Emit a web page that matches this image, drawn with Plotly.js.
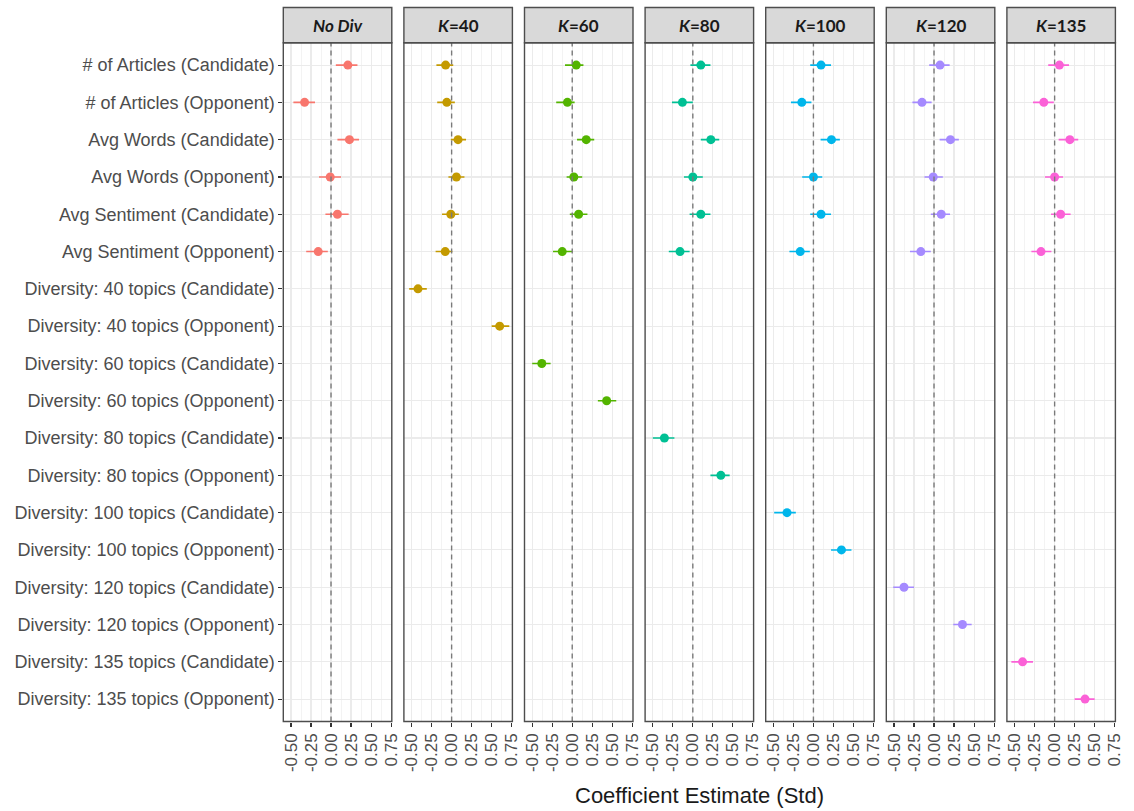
<!DOCTYPE html>
<html>
<head>
<meta charset="utf-8">
<script src="https://cdn.plot.ly/plotly-3.0.1.min.js"></script>
<style>html,body{margin:0;padding:0;background:#fff;}#chart{width:1134px;height:811px;}</style>
</head>
<body>
<div id="chart"></div>
<script>
const rowLabels = [
  "# of Articles (Candidate)", "# of Articles (Opponent)",
  "Avg Words (Candidate)", "Avg Words (Opponent)",
  "Avg Sentiment (Candidate)", "Avg Sentiment (Opponent)",
  "Diversity: 40 topics (Candidate)", "Diversity: 40 topics (Opponent)",
  "Diversity: 60 topics (Candidate)", "Diversity: 60 topics (Opponent)",
  "Diversity: 80 topics (Candidate)", "Diversity: 80 topics (Opponent)",
  "Diversity: 100 topics (Candidate)", "Diversity: 100 topics (Opponent)",
  "Diversity: 120 topics (Candidate)", "Diversity: 120 topics (Opponent)",
  "Diversity: 135 topics (Candidate)", "Diversity: 135 topics (Opponent)"
];
const panelNames = ["No Div", "K=40", "K=60", "K=80", "K=100", "K=120", "K=135"];
const panelStrip = ["<b><i>No Div</i></b>", "<b><i>K</i>=40</b>", "<b><i>K</i>=60</b>", "<b><i>K</i>=80</b>", "<b><i>K</i>=100</b>", "<b><i>K</i>=120</b>", "<b><i>K</i>=135</b>"];
const panelColors = ["#F8766D", "#C49A00", "#53B400", "#00C094", "#00B6EB", "#A58AFF", "#FB61D7"];
const xTickVals = [-0.5, -0.25, 0, 0.25, 0.5, 0.75];
const xTickText = ["-0.50", "-0.25", "0.00", "0.25", "0.50", "0.75"];

// estimates and 95% CI bounds; first six rows are shared covariates, last two are the panel's diversity rows
const estNoDiv = [0.21, -0.33, 0.23, -0.01, 0.08, -0.16];
const loNoDiv  = [0.06, -0.47, 0.08, -0.15, -0.07, -0.31];
const hiNoDiv  = [0.33, -0.20, 0.35, 0.125, 0.22, -0.04];

const estK40 = [-0.075, -0.06, 0.08, 0.06, -0.01, -0.08, -0.42, 0.60];
const loK40  = [-0.19, -0.18, -0.01, -0.04, -0.12, -0.20, -0.53, 0.50];
const hiK40  = [0.02, 0.04, 0.18, 0.16, 0.09, 0.01, -0.31, 0.72];

const estK60 = [0.05, -0.06, 0.175, 0.02, 0.08, -0.125, -0.38, 0.43];
const loK60  = [-0.09, -0.20, 0.06, -0.07, -0.03, -0.24, -0.50, 0.32];
const hiK60  = [0.14, 0.03, 0.275, 0.125, 0.19, 0.0, -0.27, 0.55];

const estK80 = [0.10, -0.13, 0.225, 0.0, 0.10, -0.16, -0.355, 0.35];
const loK80  = [-0.03, -0.26, 0.10, -0.11, -0.04, -0.30, -0.50, 0.22];
const hiK80  = [0.22, 0.0, 0.33, 0.125, 0.22, -0.04, -0.23, 0.46];

const estK100 = [0.095, -0.145, 0.225, 0.0, 0.095, -0.165, -0.33, 0.35];
const loK100  = [-0.04, -0.28, 0.09, -0.14, -0.04, -0.30, -0.49, 0.22];
const hiK100  = [0.22, -0.025, 0.33, 0.11, 0.22, -0.045, -0.22, 0.475];

const estK120 = [0.075, -0.15, 0.205, -0.01, 0.09, -0.165, -0.375, 0.355];
const loK120  = [-0.06, -0.27, 0.07, -0.12, -0.04, -0.30, -0.51, 0.24];
const hiK120  = [0.195, -0.03, 0.31, 0.11, 0.20, -0.04, -0.25, 0.47];

const estK135 = [0.06, -0.135, 0.19, 0.0, 0.075, -0.17, -0.40, 0.38];
const loK135  = [-0.08, -0.27, 0.05, -0.12, -0.045, -0.29, -0.54, 0.25];
const hiK135  = [0.18, -0.01, 0.295, 0.105, 0.20, -0.04, -0.27, 0.50];

const panelData = [
  [estNoDiv, loNoDiv, hiNoDiv],
  [estK40, loK40, hiK40],
  [estK60, loK60, hiK60],
  [estK80, loK80, hiK80],
  [estK100, loK100, hiK100],
  [estK120, loK120, hiK120],
  [estK135, loK135, hiK135]
];

const W = 1134, H = 811;
const firstLeft = 283.3, panelW = 108.5, panelStep = 120.6;
const plotTop = 42.7, plotBottom = 721.5, stripTop = 7.5;
const xRange = [-0.596, 0.759];
const axisFont = "Liberation Sans, Arial, sans-serif";

const traces = [];
const layout = {
  width: W, height: H,
  margin: {l: 0, r: 0, t: 0, b: 0, pad: 0},
  paper_bgcolor: "#ffffff", plot_bgcolor: "#ffffff",
  showlegend: false,
  font: {family: axisFont, size: 14, color: "#4D4D4D"},
  shapes: [], annotations: []
};

const yDomain = [(H - plotBottom) / H, (H - plotTop) / H];
layout.yaxis = {
  type: "category", categoryorder: "array", categoryarray: rowLabels,
  range: [rowLabels.length - 0.4, -0.6], domain: yDomain, anchor: "x",
  showgrid: true, gridcolor: "#EBEBEB", gridwidth: 1.1,
  ticks: "outside", ticklen: 4, tickcolor: "#333333", tickwidth: 1.1,
  showline: false, zeroline: false,
  tickfont: {family: axisFont, size: 18, color: "#4D4D4D"}
};

panelData.forEach((pd, i) => {
  const ax = i === 0 ? "x" : "x" + (i + 1);
  const axKey = i === 0 ? "xaxis" : "xaxis" + (i + 1);
  const left = firstLeft + i * panelStep;
  const right = left + panelW;
  const [est, lo, hi] = pd;
  const rows = est.map((_, j) => j < 6 ? rowLabels[j] : rowLabels[6 + 2 * (i - 1) + (j - 6)]);
  layout[axKey] = {
    domain: [left / W, right / W], anchor: "y", range: xRange,
    tickmode: "array", tickvals: xTickVals, ticktext: xTickText, tickangle: -90,
    showgrid: true, gridcolor: "#EBEBEB", gridwidth: 1.1,
    minor: {tickmode: "array", tickvals: [-0.375, -0.125, 0.125, 0.375, 0.625], showgrid: true, gridcolor: "#EBEBEB", gridwidth: 0.6, ticks: ""},
    ticks: "outside", ticklen: 4, tickcolor: "#333333", tickwidth: 1.1,
    showline: false, zeroline: false,
    tickfont: {family: axisFont, size: 17, color: "#4D4D4D"}
  };
  // zero reference line
  layout.shapes.push({type: "line", xref: ax, yref: "paper", x0: 0, x1: 0, y0: yDomain[0], y1: yDomain[1],
    line: {color: "#7A7A7A", width: 1.4, dash: "5px,4px"}, layer: "above"});
  traces.push({
    type: "scatter", mode: "markers", xaxis: ax, yaxis: "y",
    x: est, y: rows, name: panelNames[i],
    marker: {color: panelColors[i], size: 9},
    error_x: {type: "data", symmetric: false,
      array: est.map((e, j) => hi[j] - e), arrayminus: est.map((e, j) => e - lo[j]),
      color: panelColors[i], thickness: 1.6, width: 0},
    hoverinfo: "x+y"
  });
  // panel border
  layout.shapes.push({type: "rect", xref: "paper", yref: "paper", x0: left / W, x1: right / W, y0: yDomain[0], y1: yDomain[1],
    line: {color: "#4d4d4d", width: 1.4}, fillcolor: "rgba(0,0,0,0)", layer: "above"});
  // strip
  layout.shapes.push({type: "rect", xref: "paper", yref: "paper", x0: left / W, x1: right / W, y0: (H - plotTop) / H, y1: (H - stripTop) / H,
    line: {color: "#4d4d4d", width: 1.4}, fillcolor: "#D9D9D9", layer: "above"});
  layout.annotations.push({xref: "paper", yref: "paper", x: (left + right) / 2 / W, y: (H - (plotTop + stripTop) / 2) / H,
    text: panelStrip[i], showarrow: false, xanchor: "center", yanchor: "middle",
    font: {family: "Lato, Open Sans, sans-serif", size: 17, color: "#1A1A1A"}});
});

layout.annotations.push({xref: "paper", yref: "paper", x: (firstLeft + 6 * panelStep + panelW + firstLeft) / 2 / W, y: (H - 795) / H,
  text: "Coefficient Estimate (Std)", showarrow: false, xanchor: "center", yanchor: "middle",
  font: {family: axisFont, size: 22, color: "#1A1A1A"}});

Plotly.newPlot("chart", traces, layout, {displayModeBar: false, staticPlot: true});
</script>
</body>
</html>
